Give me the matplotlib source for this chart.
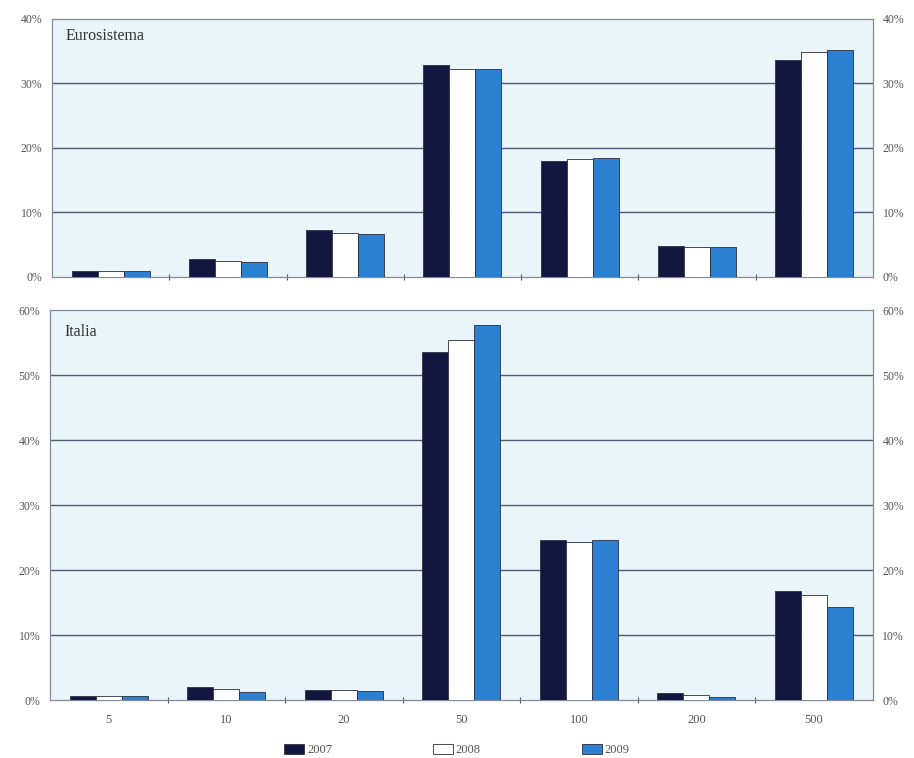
import matplotlib
matplotlib.use("Agg")
import matplotlib.pyplot as plt
import numpy as np
from matplotlib.patches import Patch

plt.rcParams['font.family'] = ['Liberation Serif', 'DejaVu Serif']

categories = ["5", "10", "20", "50", "100", "200", "500"]
years = ["2007", "2008", "2009"]

euro_2007 = [1.0, 2.8, 7.3, 32.9, 18.0, 4.8, 33.6]
euro_2008 = [0.9, 2.5, 6.8, 32.2, 18.3, 4.7, 34.9]
euro_2009 = [0.9, 2.3, 6.7, 32.2, 18.4, 4.7, 35.2]

ita_2007 = [0.6, 2.0, 1.5, 53.5, 24.6, 1.1, 16.7]
ita_2008 = [0.6, 1.7, 1.5, 55.4, 24.3, 0.8, 16.1]
ita_2009 = [0.6, 1.3, 1.4, 57.7, 24.6, 0.5, 14.3]

euro_ticks = [0, 10, 20, 30, 40]
ita_ticks = [0, 10, 20, 30, 40, 50, 60]

colors = ["#13163f", "#ffffff", "#2b80d2"]
bg = "#eaf5fa"
grid_c = "#4f5c78"
txt_c = "#555555"

fig = plt.figure(figsize=(9.14, 7.58), dpi=100)
ax1 = fig.add_axes([0.0569, 0.6346, 0.898, 0.3404])
ax2 = fig.add_axes([0.0547, 0.0765, 0.900, 0.5145])

x = np.arange(len(categories))
w = 0.222

def draw(ax, series, ticks, title, show_xlabels):
    ax.set_facecolor(bg)
    for i, (vals, c) in enumerate(zip(series, colors)):
        ax.bar(x + (i - 1) * w, vals, width=w, color=c,
               edgecolor="#2a2d45", linewidth=0.6, zorder=3)
    ax.set_xlim(-0.5, len(categories) - 0.5)
    ax.set_ylim(ticks[0], ticks[-1])
    ax.set_yticks(ticks)
    ax.set_yticklabels([f"{t}%" for t in ticks])
    for t in ticks[1:-1]:
        ax.axhline(t, color=grid_c, linewidth=1.0, zorder=1)
    ax.tick_params(axis='y', length=0, labelsize=8.5, labelcolor=txt_c,
                   left=False, right=False, labelleft=True, labelright=True, pad=7)
    ax.set_xticks(x)
    ax.set_xticks(np.arange(0.5, len(categories) - 1, 1.0), minor=True)
    ax.tick_params(axis='x', which='major', length=0, labelsize=9,
                   labelcolor=txt_c, pad=10)
    ax.tick_params(axis='x', which='minor', length=4, direction='inout',
                   color="#555566", width=0.8)
    if show_xlabels:
        ax.set_xticklabels(categories)
    else:
        ax.set_xticklabels([])
    for s in ax.spines.values():
        s.set_color("#7f8a9c")
        s.set_linewidth(0.9)
    ax.text(0.017, 0.965, title, transform=ax.transAxes, fontsize=11.5,
            color="#333333", va='top', ha='left')

draw(ax1, [euro_2007, euro_2008, euro_2009], euro_ticks, "Eurosistema", False)
draw(ax2, [ita_2007, ita_2008, ita_2009], ita_ticks, "Italia", True)

handles = [Patch(facecolor=c, edgecolor="#2a2d45", linewidth=0.6) for c in colors]
leg = fig.legend(handles, years, loc='lower center', bbox_to_anchor=(0.5, -0.012),
                 ncol=3, frameon=False, fontsize=9, handlelength=1.6,
                 handleheight=0.85, columnspacing=8.1, handletextpad=0.2)
for t in leg.get_texts():
    t.set_color(txt_c)

fig.savefig("out.png", dpi=100, facecolor="white")
